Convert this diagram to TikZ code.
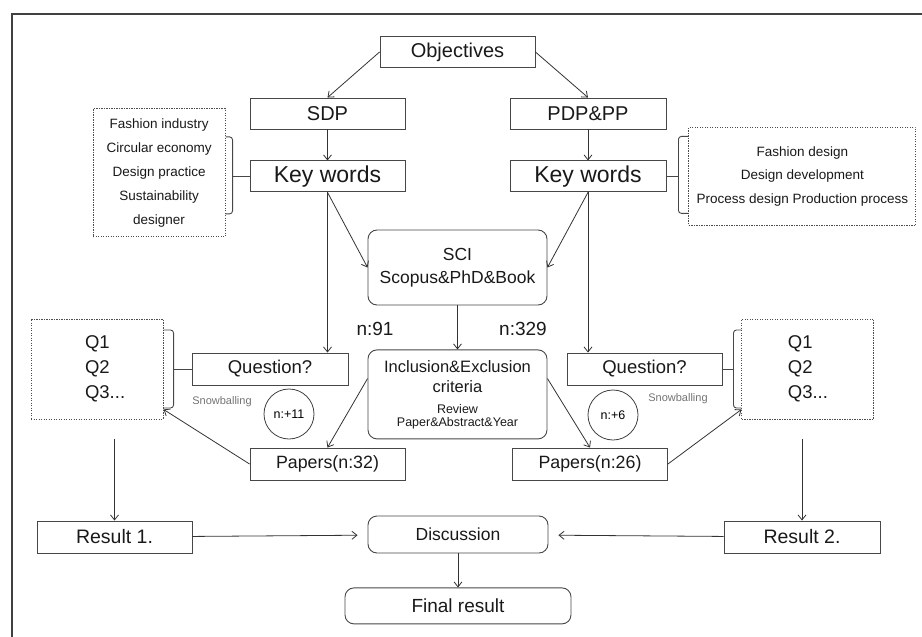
\documentclass[tikz,border=0pt]{standalone}
\usepackage{fontspec}
\setmainfont{Liberation Sans}
\usetikzlibrary{positioning,calc,arrows.meta}
\tikzset{
  stepBox/.style={
    rectangle,
    draw=black!72,
    line width=0.9pt,
    text=black!90,
    minimum width=155pt,
    minimum height=31pt,
    inner sep=2pt,
    font=\fontsize{20}{24}\selectfont
  },
  softBox/.style={
    stepBox,
    rounded corners=9pt,
    align=center
  },
  noteBox/.style={
    rectangle,
    draw=black!70,
    line width=0.9pt,
    dash pattern=on 1.3pt off 1.2pt,
    text=black!90,
    inner sep=2pt,
    align=center
  },
  countCircle/.style={
    circle,
    draw=black!75,
    line width=0.8pt,
    minimum size=50pt,
    inner sep=0pt,
    font=\fontsize{12.5}{14}\selectfont
  },
  arrowLine/.style={
    -{Straight Barb[length=5pt,width=8pt]},
    line width=0.8pt,
    draw=black!80
  },
  braceLine/.style={
    line width=0.9pt,
    draw=black!72,
    rounded corners=3pt
  },
  snowText/.style={
    text=black!55,
    font=\fontsize{11}{13}\selectfont
  }
}

\begin{document}
\begin{tikzpicture}[x=1pt, y=-1pt]
  \useasboundingbox (0,0) rectangle (922,637);
  \draw[line width=1.5pt, black!75] (12,637) -- (12,14) -- (922,14);

  % objectives and key words
  \node[stepBox] (obj) at (457.5,52) {Objectives};
  \node[stepBox] (sdp) at (327.5,113.5) {SDP};
  \node[stepBox, minimum width=156pt] (pdp) at (588,113.5) {PDP\&PP};
  \node[stepBox, below=31pt of sdp, font=\fontsize{23}{26}\selectfont] (kwL) {Key words};
  \node[stepBox, below=31pt of pdp, minimum width=156pt, font=\fontsize{23}{26}\selectfont] (kwR) {Key words};

  \node[noteBox, left=24pt of kwL, yshift=3.5pt, minimum width=132pt, minimum height=128pt,
        font=\fontsize{13.5}{24}\selectfont] (kwListL)
    {Fashion industry\\Circular economy\\Design practice\\Sustainability\\designer};
  \node[noteBox, right=22pt of kwR, minimum width=227pt, minimum height=98pt,
        font=\fontsize{13.5}{23.5}\selectfont] (kwListR)
    {Fashion design\\Design development\\Process design Production process};

  \draw[braceLine] ($(kwListL.east)+(0,-36)$) -- ++(7,0) -- ++(0,77) -- ++(-7,0);
  \draw[braceLine] (kwL.west) -- ++(-17,0);
  \draw[braceLine] ($(kwListR.west)+(0,-40)$) -- ++(-10,0) -- ++(0,77) -- ++(10,0);
  \draw[braceLine] (kwR.east) -- ++(12,0);

  \draw[arrowLine] (obj.west) -- (sdp.north);
  \draw[arrowLine] (obj.east) -- (pdp.north);
  \draw[arrowLine] (sdp) -- (kwL);
  \draw[arrowLine] (pdp) -- (kwR);

  % databases and screening
  \node[softBox, minimum width=179pt, minimum height=75pt,
        font=\fontsize{17.5}{23}\selectfont] (sci) at (457.5,267.5) {SCI\\Scopus\&PhD\&Book};
  \node[softBox, below=44pt of sci, minimum width=179pt, minimum height=89pt,
        font=\fontsize{16.5}{20}\selectfont] (incl)
    {Inclusion\&Exclusion\\criteria\\[1pt]{\fontsize{12.5}{13}\selectfont Review}\\[-7pt]{\fontsize{12.5}{13}\selectfont Paper\&Abstract\&Year}};

  \draw[arrowLine] (kwL.south) -- (sci.west);
  \draw[arrowLine] (kwR.south) -- (sci.east);
  \draw[arrowLine] (sci) -- (incl);

  \node[font=\fontsize{19}{22}\selectfont, text=black!90] (n91) at (375,329) {n:91};
  \node[font=\fontsize{19}{22}\selectfont, text=black!90] (n329) at (523,329) {n:329};

  % questions
  \node[stepBox, font=\fontsize{18.5}{22}\selectfont, minimum width=156pt, minimum height=32pt] (qL) at (270,369) {Question?};
  \node[stepBox, font=\fontsize{18.5}{22}\selectfont, minimum height=32pt] (qR) at (644.5,369) {Question?};
  \node[noteBox, left=28pt of qL, minimum width=132pt, minimum height=100pt, align=left,
        font=\fontsize{18.5}{25}\selectfont] (qListL)
    {\hspace*{16pt}Q1\\\hspace*{16pt}Q2\\\hspace*{16pt}Q3...};
  \node[noteBox, right=19pt of qR, minimum width=132pt, minimum height=100pt, align=left,
        font=\fontsize{18.5}{25}\selectfont] (qListR)
    {Q1\\Q2\\Q3...};

  \draw[braceLine] ($(qListL.east)+(0,-39)$) -- ++(10,0) -- ++(0,78) -- ++(-10,0);
  \draw[braceLine] (qL.west) -- ++(-18,0);
  \draw[braceLine] ($(qListR.west)+(0,-39)$) -- ++(-8,0) -- ++(0,78) -- ++(8,0);
  \draw[braceLine] (qR.east) -- ++(11,0);

  \draw[arrowLine] (kwL.south) -- (kwL.south |- qL.north);
  \draw[arrowLine] (kwR.south) -- (kwR.south |- qR.north);

  \node[snowText] (snowL) at (222,402) {Snowballing};
  \node[snowText] (snowR) at (678,399) {Snowballing};
  \node[countCircle] (addL) at (289,414) {n:+11};
  \node[countCircle] (addR) at (613,415) {n:+6};

  % papers
  \node[stepBox, font=\fontsize{17.8}{22}\selectfont, minimum height=32pt] (papL) at (327.5,464) {Papers(n:32)};
  \node[stepBox, font=\fontsize{17.8}{22}\selectfont, minimum height=32pt] (papR) at (590,464) {Papers(n:26)};

  \draw[arrowLine] (incl.170) -- (papL.north);
  \draw[arrowLine] (incl.10) -- (papR.north);
  \draw[arrowLine] (papL.west) -- ($(qListL.south east)+(0,-10)$);
  \draw[arrowLine] (papR.east) -- ($(qListR.south west)+(0,-10)$);

  % results
  \node[stepBox, font=\fontsize{19.5}{22}\selectfont, minimum height=32pt] (res1) at (114.5,537) {Result 1.};
  \node[stepBox, font=\fontsize{19.5}{22}\selectfont, minimum width=156pt, minimum height=32pt] (res2) at (802,537) {Result 2.};
  \node[softBox, font=\fontsize{17.5}{22}\selectfont, minimum width=180pt, minimum height=37pt] (disc) at (458,534.5) {Discussion};
  \node[softBox, below=34pt of disc, font=\fontsize{19}{22}\selectfont, minimum width=226pt, minimum height=36pt] (fin) {Final result};

  \draw[arrowLine] ($(res1.north)+(0,-82)$) -- (res1.north);
  \draw[arrowLine] ($(res2.north)+(0,-82)$) -- (res2.north);
  \draw[arrowLine, shorten >=10pt] (res1) -- (disc);
  \draw[arrowLine, shorten >=10pt] (res2) -- (disc);
  \draw[arrowLine] (disc) -- (fin);
\end{tikzpicture}
\end{document}
